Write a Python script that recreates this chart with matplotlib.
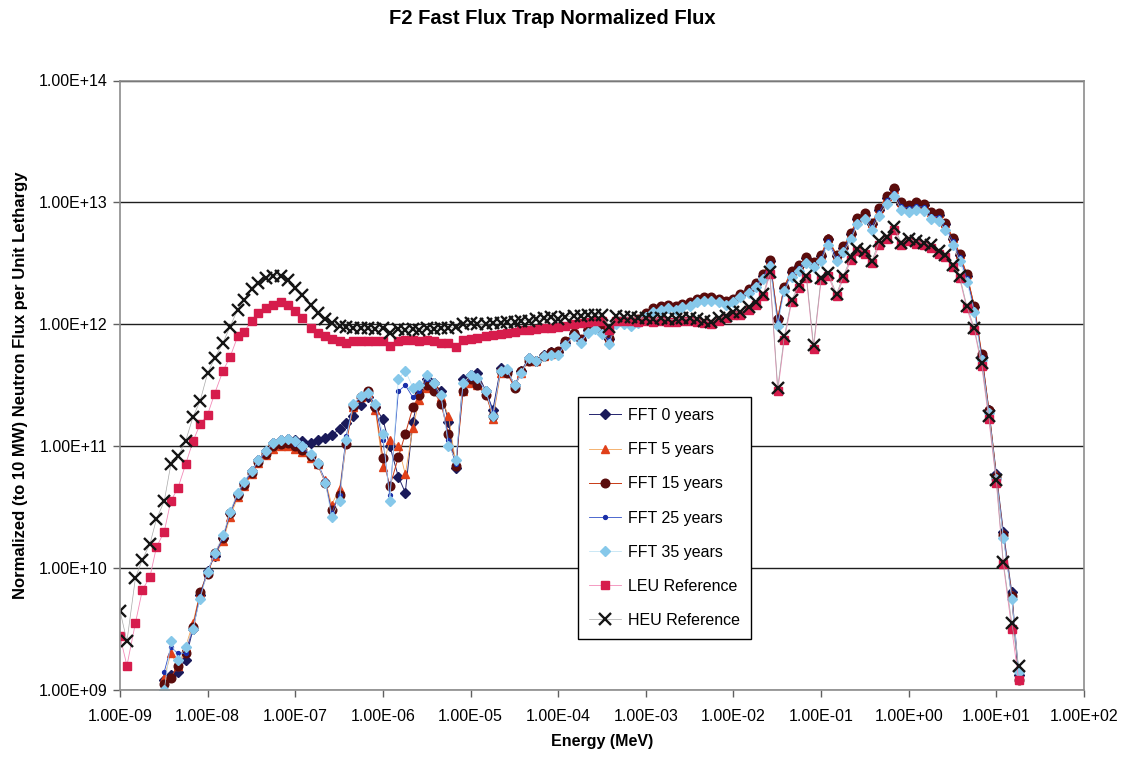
import numpy as np
import matplotlib
matplotlib.use("Agg")
import matplotlib.pyplot as plt
from matplotlib.ticker import LogLocator, FuncFormatter, NullLocator

plt.rcParams["font.family"] = ["Liberation Sans", "DejaVu Sans"]

# group energies (MeV)
energy_mev = [
    1.0e-9, 1.2e-9, 1.5e-9, 1.8e-9, 2.2e-9, 2.6e-9, 3.2e-9, 3.8e-9, 4.6e-9, 5.6e-9, 6.8e-9, 8.2e-9,
    1.0e-8, 1.2e-8, 1.5e-8, 1.8e-8, 2.2e-8, 2.6e-8, 3.2e-8, 3.8e-8, 4.6e-8, 5.6e-8, 6.8e-8, 8.2e-8,
    1.0e-7, 1.2e-7, 1.5e-7, 1.8e-7, 2.2e-7, 2.6e-7, 3.2e-7, 3.8e-7, 4.6e-7, 5.6e-7, 6.8e-7, 8.2e-7,
    1.0e-6, 1.2e-6, 1.5e-6, 1.8e-6, 2.2e-6, 2.6e-6, 3.2e-6, 3.8e-6, 4.6e-6, 5.6e-6, 6.8e-6, 8.2e-6,
    1.0e-5, 1.2e-5, 1.5e-5, 1.8e-5, 2.2e-5, 2.6e-5, 3.2e-5, 3.8e-5, 4.6e-5, 5.6e-5, 6.8e-5, 8.2e-5,
    1.0e-4, 1.2e-4, 1.5e-4, 1.8e-4, 2.2e-4, 2.6e-4, 3.2e-4, 3.8e-4, 4.6e-4, 5.6e-4, 6.8e-4, 8.2e-4,
    1.0e-3, 1.2e-3, 1.5e-3, 1.8e-3, 2.2e-3, 2.6e-3, 3.2e-3, 3.8e-3, 4.6e-3, 5.6e-3, 6.8e-3, 8.2e-3,
    1.0e-2, 1.2e-2, 1.5e-2, 1.8e-2, 2.2e-2, 2.6e-2, 3.2e-2, 3.8e-2, 4.6e-2, 5.6e-2, 6.8e-2, 8.2e-2,
    1.0e-1, 1.2e-1, 1.5e-1, 1.8e-1, 2.2e-1, 2.6e-1, 3.2e-1, 3.8e-1, 4.6e-1, 5.6e-1, 6.8e-1, 8.2e-1,
    1.0e0, 1.2e0, 1.5e0, 1.8e0, 2.2e0, 2.6e0, 3.2e0, 3.8e0, 4.6e0, 5.6e0, 6.8e0, 8.2e0,
    1.0e1, 1.2e1, 1.5e1, 1.8e1,
]
# FFT tallies start at 3.2e-9 MeV
fft_energy = energy_mev[6:]

# log10 of normalized flux per unit lethargy
fft0_log = [
    9.08, 9.12, 9.15, 9.25, 9.50, 9.78,
    9.98, 10.10, 10.25, 10.45, 10.61, 10.70, 10.80, 10.89, 10.96, 11.03, 11.05, 11.06,
    11.05, 11.04, 11.03, 11.05, 11.07, 11.09, 11.14, 11.19, 11.25, 11.34, 11.40, 11.32,
    11.22, 11.00, 10.75, 10.62, 11.20, 11.45, 11.55, 11.52, 11.45, 11.20, 10.82, 11.55,
    11.58, 11.60, 11.45, 11.30, 11.64, 11.62, 11.50, 11.62, 11.72, 11.70, 11.75, 11.77,
    11.77, 11.85, 11.92, 11.87, 11.95, 11.98, 11.95, 11.88, 12.02, 12.02, 12.01, 12.03,
    12.08, 12.12, 12.14, 12.15, 12.14, 12.16, 12.17, 12.20, 12.21, 12.21, 12.20, 12.18,
    12.20, 12.24, 12.28, 12.33, 12.40, 12.52, 12.05, 12.30, 12.43, 12.48, 12.54, 12.50,
    12.56, 12.70, 12.56, 12.63, 12.74, 12.86, 12.90, 12.82, 12.94, 13.04, 13.11, 12.99,
    12.97, 12.99, 12.98, 12.91, 12.90, 12.82, 12.70, 12.57, 12.40, 12.14, 11.74, 11.30,
    10.77, 10.30, 9.80, 9.12,
]
fft5_log = [
    9.10, 9.30, 9.20, 9.35, 9.55, 9.80,
    9.97, 10.10, 10.22, 10.42, 10.58, 10.67, 10.77, 10.86, 10.93, 10.98, 11.00, 11.00,
    10.98, 10.95, 10.90, 10.85, 10.72, 10.52, 10.65, 11.05, 11.32, 11.40, 11.44, 11.30,
    10.83, 11.05, 11.00, 10.77, 11.15, 11.38, 11.48, 11.50, 11.40, 11.25, 10.85, 11.45,
    11.52, 11.50, 11.45, 11.22, 11.60, 11.62, 11.50, 11.60, 11.70, 11.70, 11.74, 11.76,
    11.78, 11.86, 11.93, 11.88, 11.96, 11.99, 11.95, 11.89, 12.03, 12.03, 12.02, 12.04,
    12.09, 12.13, 12.15, 12.16, 12.15, 12.17, 12.18, 12.21, 12.22, 12.22, 12.21, 12.19,
    12.21, 12.25, 12.29, 12.34, 12.41, 12.53, 12.06, 12.31, 12.44, 12.49, 12.55, 12.51,
    12.57, 12.71, 12.57, 12.64, 12.75, 12.87, 12.91, 12.83, 12.95, 13.05, 13.11, 13.00,
    12.98, 13.00, 12.99, 12.92, 12.91, 12.83, 12.71, 12.58, 12.41, 12.15, 11.75, 11.30,
    10.76, 10.28, 9.78, 9.10,
]
fft15_log = [
    9.05, 9.10, 9.20, 9.30, 9.52, 9.80,
    9.95, 10.12, 10.25, 10.45, 10.60, 10.68, 10.78, 10.87, 10.94, 11.00, 11.02, 11.03,
    11.00, 10.97, 10.92, 10.85, 10.70, 10.48, 10.60, 11.02, 11.33, 11.40, 11.45, 11.32,
    10.90, 10.67, 10.91, 11.10, 11.32, 11.42, 11.50, 11.45, 11.35, 11.10, 10.84, 11.45,
    11.55, 11.50, 11.42, 11.25, 11.62, 11.60, 11.48, 11.62, 11.70, 11.70, 11.74, 11.77,
    11.78, 11.86, 11.93, 11.88, 11.96, 11.99, 11.96, 11.89, 12.03, 12.03, 12.02, 12.04,
    12.09, 12.13, 12.15, 12.16, 12.15, 12.17, 12.18, 12.21, 12.22, 12.22, 12.21, 12.19,
    12.21, 12.25, 12.29, 12.34, 12.41, 12.53, 12.04, 12.31, 12.44, 12.49, 12.55, 12.51,
    12.57, 12.70, 12.57, 12.64, 12.75, 12.87, 12.91, 12.83, 12.95, 13.05, 13.12, 13.00,
    12.98, 13.00, 12.99, 12.92, 12.91, 12.83, 12.71, 12.58, 12.41, 12.15, 11.76, 11.30,
    10.75, 10.27, 9.77, 9.08,
]
fft25_log = [
    9.15, 9.35, 9.30, 9.30, 9.50, 9.77,
    9.98, 10.10, 10.25, 10.45, 10.60, 10.70, 10.79, 10.88, 10.95, 11.02, 11.04, 11.05,
    11.02, 10.98, 10.93, 10.86, 10.72, 10.45, 10.60, 11.08, 11.35, 11.40, 11.44, 11.33,
    11.05, 10.60, 11.45, 11.50, 11.40, 11.45, 11.55, 11.50, 11.40, 11.05, 10.85, 11.50,
    11.56, 11.55, 11.45, 11.28, 11.62, 11.62, 11.50, 11.60, 11.72, 11.70, 11.74, 11.76,
    11.76, 11.84, 11.91, 11.86, 11.94, 11.97, 11.93, 11.87, 12.01, 12.01, 12.00, 12.02,
    12.07, 12.11, 12.13, 12.14, 12.13, 12.15, 12.16, 12.19, 12.20, 12.20, 12.19, 12.17,
    12.19, 12.23, 12.27, 12.32, 12.39, 12.50, 12.02, 12.29, 12.41, 12.46, 12.52, 12.49,
    12.54, 12.68, 12.54, 12.61, 12.72, 12.84, 12.88, 12.80, 12.92, 13.02, 13.08, 12.97,
    12.95, 12.97, 12.96, 12.89, 12.88, 12.80, 12.68, 12.55, 12.38, 12.12, 11.73, 11.28,
    10.74, 10.27, 9.76, 9.10,
]
fft35_log = [
    9.00, 9.40, 9.25, 9.35, 9.50, 9.75,
    9.97, 10.12, 10.27, 10.46, 10.62, 10.71, 10.80, 10.89, 10.96, 11.03, 11.05, 11.06,
    11.04, 11.00, 10.94, 10.86, 10.70, 10.42, 10.55, 11.05, 11.35, 11.41, 11.44, 11.35,
    11.10, 10.55, 11.55, 11.62, 11.48, 11.50, 11.58, 11.52, 11.42, 11.00, 10.89, 11.52,
    11.58, 11.56, 11.45, 11.25, 11.62, 11.63, 11.50, 11.60, 11.72, 11.70, 11.74, 11.75,
    11.75, 11.83, 11.90, 11.85, 11.93, 11.96, 11.92, 11.84, 12.00, 12.00, 11.99, 12.01,
    12.06, 12.10, 12.12, 12.13, 12.12, 12.14, 12.15, 12.18, 12.19, 12.19, 12.18, 12.16,
    12.18, 12.22, 12.26, 12.31, 12.37, 12.48, 11.99, 12.27, 12.39, 12.44, 12.50, 12.47,
    12.52, 12.65, 12.52, 12.59, 12.70, 12.82, 12.86, 12.77, 12.89, 12.99, 13.05, 12.94,
    12.92, 12.94, 12.93, 12.86, 12.85, 12.77, 12.65, 12.52, 12.35, 12.10, 11.71, 11.27,
    10.73, 10.25, 9.75, 9.15,
]
leu_log = [
    9.44, 9.20, 9.55, 9.82, 9.93, 10.17, 10.30, 10.55, 10.66, 10.85, 11.04, 11.18,
    11.26, 11.43, 11.62, 11.73, 11.90, 11.94, 12.03, 12.09, 12.13, 12.16, 12.18, 12.16,
    12.11, 12.05, 11.97, 11.93, 11.90, 11.88, 11.86, 11.85, 11.86, 11.86, 11.86, 11.86,
    11.86, 11.82, 11.86, 11.87, 11.87, 11.86, 11.87, 11.86, 11.85, 11.85, 11.81, 11.87,
    11.88, 11.89, 11.90, 11.91, 11.92, 11.93, 11.94, 11.95, 11.95, 11.96, 11.97, 11.97,
    11.98, 11.99, 12.00, 12.01, 12.02, 12.03, 12.03, 11.95, 12.03, 12.03, 12.03, 12.02,
    12.03, 12.02, 12.03, 12.02, 12.02, 12.03, 12.03, 12.02, 12.01, 12.00, 12.03, 12.05,
    12.08, 12.08, 12.12, 12.16, 12.23, 12.41, 11.45, 11.87, 12.18, 12.30, 12.38, 11.80,
    12.36, 12.40, 12.23, 12.38, 12.53, 12.60, 12.58, 12.50, 12.65, 12.70, 12.77, 12.65,
    12.68, 12.66, 12.65, 12.63, 12.58, 12.55, 12.47, 12.38, 12.13, 11.95, 11.66, 11.22,
    10.70, 10.03, 9.50, 9.08,
]
heu_log = [
    9.65, 9.40, 9.92, 10.07, 10.20, 10.40, 10.55, 10.85, 10.92, 11.04, 11.24, 11.37,
    11.60, 11.72, 11.85, 11.98, 12.12, 12.20, 12.29, 12.34, 12.38, 12.40, 12.40, 12.36,
    12.30, 12.24, 12.16, 12.09, 12.04, 12.01, 11.99, 11.98, 11.97, 11.97, 11.97, 11.96,
    11.97, 11.93, 11.96, 11.95, 11.96, 11.95, 11.97, 11.96, 11.97, 11.97, 11.98, 12.00,
    12.01, 12.00, 12.00, 12.01, 12.01, 12.02, 12.02, 12.03, 12.03, 12.04, 12.05, 12.06,
    12.04, 12.06, 12.07, 12.07, 12.08, 12.08, 12.08, 11.98, 12.07, 12.06, 12.06, 12.05,
    12.05, 12.04, 12.05, 12.04, 12.04, 12.05, 12.05, 12.04, 12.03, 12.02, 12.05, 12.07,
    12.10, 12.10, 12.14, 12.18, 12.25, 12.43, 11.48, 11.90, 12.20, 12.32, 12.40, 11.83,
    12.38, 12.42, 12.25, 12.40, 12.55, 12.62, 12.60, 12.52, 12.68, 12.72, 12.80, 12.67,
    12.70, 12.68, 12.67, 12.65, 12.60, 12.57, 12.49, 12.40, 12.15, 11.97, 11.68, 11.25,
    10.72, 10.05, 9.55, 9.20,
]

series = [
    ("FFT 0 years", fft_energy, fft0_log,
     dict(color="#24246e", marker="D", ms=5.2, mfc="#1a1a5a", mec="#1a1a5a", lw=0.7)),
    ("FFT 5 years", fft_energy, fft5_log,
     dict(color="#f2a65a", marker="^", ms=6.2, mfc="#e0401a", mec="#e0401a", lw=0.6)),
    ("FFT 15 years", fft_energy, fft15_log,
     dict(color="#c83a14", marker="o", ms=6.2, mfc="#5a0c0c", mec="#5a0c0c", lw=0.7)),
    ("FFT 25 years", fft_energy, fft25_log,
     dict(color="#3050c8", marker="o", ms=2.8, mfc="#1a2ea8", mec="#1a2ea8", lw=0.6)),
    ("FFT 35 years", fft_energy, fft35_log,
     dict(color="#b6def2", marker="D", ms=5.2, mfc="#86c8ea", mec="#86c8ea", lw=0.5)),
    ("LEU Reference", energy_mev, leu_log,
     dict(color="#f38ab8", marker="s", ms=5.6, mfc="#d61c4c", mec="#d61c4c", lw=0.6)),
    ("HEU Reference", energy_mev, heu_log,
     dict(color="#a8a8a8", marker="x", ms=8, mec="#151515", mew=1.7, lw=0.5)),
]

fig = plt.figure(figsize=(11.3, 7.57), dpi=100)
ax = fig.add_axes([120 / 1130, 1 - 690 / 757, 964 / 1130, 609.5 / 757])

for label, e, logflux, style in series:
    ax.plot(e, 10.0 ** np.array(logflux), label=label, **style)

ax.set_xscale("log")
ax.set_yscale("log")
ax.set_xlim(1e-9, 1e2)
ax.set_ylim(1e9, 1e14)

sci = FuncFormatter(lambda v, pos: f"{v:.2E}")
ax.xaxis.set_major_locator(LogLocator(base=10, numticks=20))
ax.yaxis.set_major_locator(LogLocator(base=10, numticks=20))
ax.xaxis.set_minor_locator(NullLocator())
ax.yaxis.set_minor_locator(NullLocator())
ax.xaxis.set_major_formatter(sci)
ax.yaxis.set_major_formatter(sci)
ax.tick_params(axis="both", labelsize=11.5, length=5, width=1, color="#606060")
ax.tick_params(axis="x", pad=9)
ax.tick_params(axis="y", pad=4)

ax.yaxis.grid(True, color="#1e1e1e", lw=1.0)
ax.set_axisbelow(True)
for sp in ax.spines.values():
    sp.set_color("#8c8c8c")
    sp.set_linewidth(1.2)

ax.set_xlabel("Energy (MeV)", fontsize=11.5, fontweight="bold", labelpad=7)
ax.set_ylabel("Normalized (to 10 MW) Neutron Flux per Unit Lethargy",
              fontsize=12, fontweight="bold", labelpad=8)
fig.text(552 / 1130, 1 - 18 / 757, "F2 Fast Flux Trap Normalized Flux",
         ha="center", va="center", fontsize=14.5, fontweight="bold")

leg = ax.legend(loc="upper left", bbox_to_anchor=(0.467, 0.494), fontsize=11.5,
                frameon=True, fancybox=False, framealpha=1, edgecolor="black",
                borderpad=0.7, labelspacing=1.2, handlelength=2.0,
                handletextpad=0.4, numpoints=1)
leg.get_frame().set_linewidth(1.0)

fig.savefig("out.png", dpi=100)
